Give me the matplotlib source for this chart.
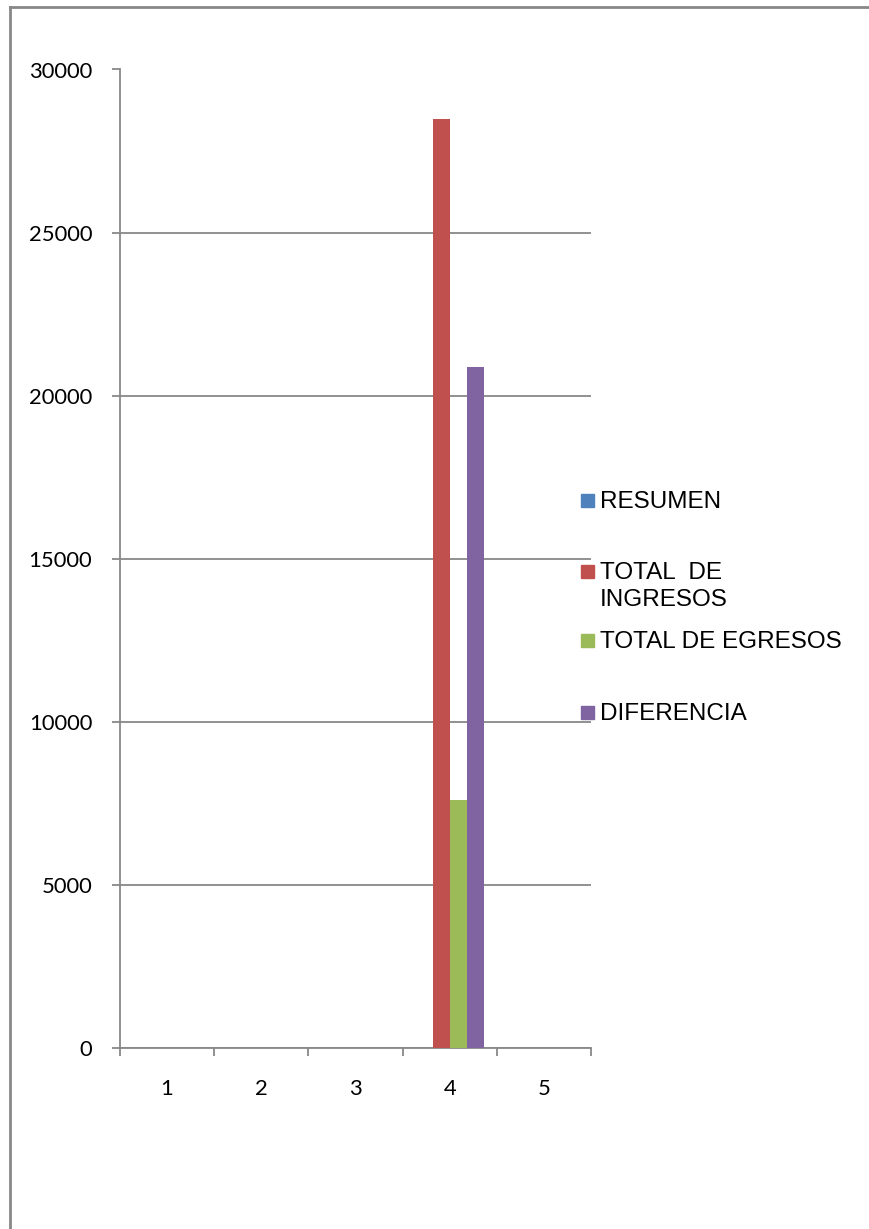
import numpy as np
import matplotlib as mpl
mpl.use('Agg')
import matplotlib.pyplot as plt
from matplotlib.lines import Line2D
from matplotlib.patches import Rectangle

# chart data
categories = ['1', '2', '3', '4', '5']
resumen = [0, 0, 0, 0, 0]
ingresos = [0, 0, 0, 28480, 0]
egresos = [0, 0, 0, 7600, 0]
diferencia = [0, 0, 0, 20880, 0]
series_names = ['RESUMEN', 'TOTAL  DE\nINGRESOS', 'TOTAL DE EGRESOS', 'DIFERENCIA']
colors = ['#4F81BD', '#C0504D', '#9BBB59', '#8064A2']
yticks = [0, 5000, 10000, 15000, 20000, 25000, 30000]

W, H = 869, 1229
fig = plt.figure(figsize=(W / 100, H / 100), dpi=100)

def fx(px):
    return px / W

def fy(py):
    return 1 - py / H

ax = fig.add_axes([fx(120), fy(1048), fx(591) - fx(120), fy(69.5) - fy(1048)])
grey = '#888888'

x = np.arange(len(categories)) + 0.5
w = 0.18
all_series = [resumen, ingresos, egresos, diferencia]
for i, vals in enumerate(all_series):
    ax.bar(x + (i - 1.5) * w, vals, width=w, color=colors[i], linewidth=0, zorder=3)

ax.set_xlim(0, len(categories))
ax.set_ylim(0, 30000)
ax.set_yticks(yticks)
ax.set_yticklabels([str(v) for v in yticks], fontsize=15.8, family='Lato')
ax.yaxis.grid(True, color=grey, linewidth=1.3)
ax.set_axisbelow(True)

# category boundary ticks, labels centered between
ax.set_xticks(np.arange(len(categories) + 1))
ax.set_xticklabels([])
ax.set_xticks(x, minor=True)
ax.set_xticklabels(categories, minor=True, fontsize=15.8, family='Lato')
ax.tick_params(axis='x', which='minor', length=0, pad=22)
ax.tick_params(axis='x', which='major', length=6, width=1.3, color=grey, direction='out')
ax.tick_params(axis='y', length=6, width=1.3, color=grey, pad=14)

for s in ['top', 'right']:
    ax.spines[s].set_visible(False)
for s in ['left', 'bottom']:
    ax.spines[s].set_color(grey)
    ax.spines[s].set_linewidth(1.3)

# legend drawn by hand, Excel style (one text per line)
leg_y = [500, 571, 640, 712]
for i, name in enumerate(series_names):
    fig.patches.append(Rectangle((fx(581), fy(leg_y[i] + 6.5)), fx(13), fy(0) - fy(13),
                                 transform=fig.transFigure, color=colors[i]))
    for j, line in enumerate(name.split('\n')):
        fig.text(fx(600), fy(leg_y[i] + 27 * j + 8), line, fontsize=17.5,
                 family='Liberation Sans', va='baseline', ha='left')

# outer chart frame (only left and top visible)
fig.lines.append(Line2D([fx(10), fx(10)], [fy(7), 0], transform=fig.transFigure, color=grey, linewidth=2))
fig.lines.append(Line2D([fx(10), 1], [fy(7), fy(7)], transform=fig.transFigure, color=grey, linewidth=2))

fig.savefig('out.png', dpi=100)
